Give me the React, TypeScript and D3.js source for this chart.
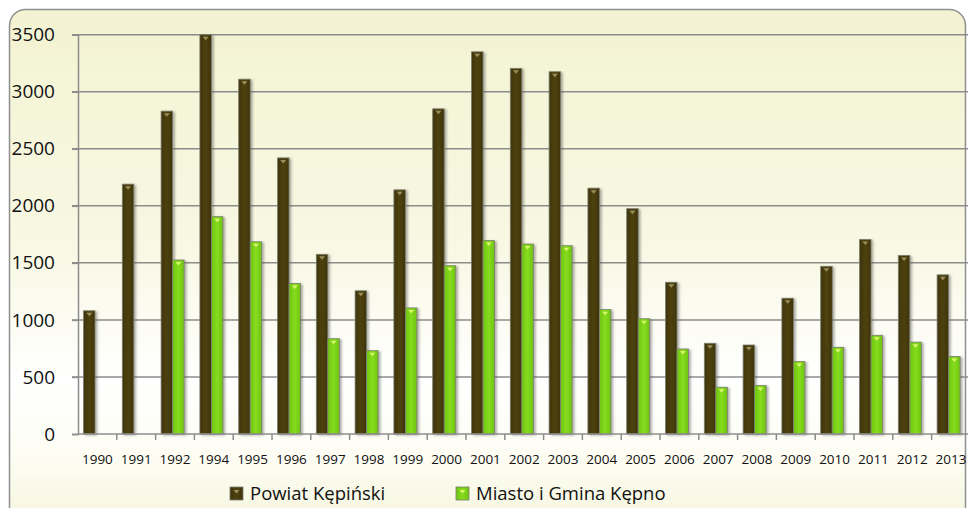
import React, { useEffect, useRef } from "react";
import * as d3 from "d3";

// years on the category axis (1993 is missing in the source)
const years = [
  "1990", "1991", "1992", "1994", "1995", "1996", "1997", "1998", "1999", "2000", "2001", "2002",
  "2003", "2004", "2005", "2006", "2007", "2008", "2009", "2010", "2011", "2012", "2013",
];
const powiat = [
  1080, 2190, 2830, 3500, 3110, 2420, 1575, 1255, 2140, 2850, 3350, 3205,
  3175, 2155, 1975, 1330, 795, 780, 1190, 1470, 1705, 1565, 1395,
];
const gmina = [
  0, 0, 1525, 1905, 1685, 1320, 835, 730, 1105, 1475, 1695, 1665,
  1650, 1090, 1010, 745, 410, 425, 635, 760, 865, 805, 680,
];
const seriesNames = ["Powiat Kępiński", "Miasto i Gmina Kępno"];
const yTicks = [0, 500, 1000, 1500, 2000, 2500, 3000, 3500];

const App = () => {
  const ref = useRef<SVGSVGElement>(null);

  useEffect(() => {
    const width = 968;
    const height = 508;
    const left = 78;
    const top = 34.7;
    const bottom = 434;
    const right = 78 + 23 * 38.8;

    const svg = d3.select(ref.current);
    svg.selectAll("*").remove();

    const defs = svg.append("defs");
    const bg = defs
      .append("linearGradient")
      .attr("id", "bg")
      .attr("x1", 0).attr("y1", 0).attr("x2", 0).attr("y2", 1);
    [
      [0, "#f3f3d2"],
      [0.45, "#f8f8e4"],
      [0.7, "#ffffff"],
      [0.84, "#fdfdf4"],
      [1, "#f4f4da"],
    ].forEach(([o, c]) => bg.append("stop").attr("offset", o as number).attr("stop-color", c as string));

    const shadow = defs.append("filter").attr("id", "shadow")
      .attr("x", "-50%").attr("y", "-10%").attr("width", "200%").attr("height", "120%");
    shadow.append("feDropShadow")
      .attr("dx", 2).attr("dy", 1).attr("stdDeviation", 1.2)
      .attr("flood-color", "#555").attr("flood-opacity", 0.45);

    // bar gradients (slightly lighter middle, darker sides)
    const barGrad = (id: string, edge: string, mid: string) => {
      const g = defs.append("linearGradient").attr("id", id)
        .attr("x1", 0).attr("y1", 0).attr("x2", 1).attr("y2", 0);
      g.append("stop").attr("offset", 0).attr("stop-color", edge);
      g.append("stop").attr("offset", 0.5).attr("stop-color", mid);
      g.append("stop").attr("offset", 1).attr("stop-color", edge);
    };
    barGrad("g0", "#3e340a", "#4d420f");
    barGrad("g1", "#6fc414", "#86dc1c");
    const fills = ["url(#g0)", "url(#g1)"];
    const tipColors = ["#9a8f5a", "#d8f56a"];

    // chart frame
    svg.append("rect")
      .attr("x", 9.5).attr("y", 9.5)
      .attr("width", 956).attr("height", 530)
      .attr("rx", 16)
      .attr("fill", "url(#bg)")
      .attr("stroke", "#8f8f8f")
      .attr("stroke-width", 1.5);

    const y = d3.scaleLinear().domain([0, 3500]).range([bottom, top]);
    const x0 = d3.scaleBand<string>().domain(years).range([left, right]).padding(0);
    const x1 = d3.scaleBand<number>().domain([0, 1]).range([5.5, 28.5]).padding(0);

    // gridlines
    svg.append("g")
      .selectAll("line")
      .data(yTicks.filter((t) => t > 0))
      .join("line")
      .attr("x1", left - 6).attr("x2", width + 10)
      .attr("y1", (d) => y(d)).attr("y2", (d) => y(d))
      .attr("stroke", "#8c8c8c").attr("stroke-width", 1.5);

    // y axis
    const yAxis = svg.append("g").attr("transform", `translate(${left},0)`)
      .call(d3.axisLeft(y).tickValues(yTicks).tickSize(6).tickPadding(17).tickFormat(d3.format("d")));
    yAxis.select(".domain").attr("stroke", "#8c8c8c").attr("stroke-width", 1.5);
    yAxis.selectAll(".tick line").attr("stroke", "#8c8c8c").attr("stroke-width", 1.5);
    yAxis.selectAll(".tick text")
      .attr("font-family", "'Open Sans', sans-serif")
      .attr("font-size", 19)
      .attr("fill", "#111");

    // bars
    const groups = svg.append("g")
      .selectAll("g")
      .data(years)
      .join("g")
      .attr("transform", (d) => `translate(${x0(d)},0)`);

    [powiat, gmina].forEach((vals, s) => {
      const bars = groups.filter((_, i) => vals[i] > 0);
      bars.append("rect")
        .attr("x", x1(s)!)
        .attr("width", x1.bandwidth())
        .attr("y", (_, i, nodes) => y(vals[years.indexOf(d3.select(nodes[i]).datum() as string)]))
        .attr("height", (_, i, nodes) => bottom - y(vals[years.indexOf(d3.select(nodes[i]).datum() as string)]))
        .attr("fill", fills[s])
        .attr("stroke", "#7d7d6e")
        .attr("stroke-width", 0.8)
        .attr("filter", "url(#shadow)");
      bars.append("path")
        .attr("d", (d) => {
          const cx = x1(s)! + x1.bandwidth() / 2;
          const ty = y(vals[years.indexOf(d)]) + 2;
          return `M${cx - 3},${ty}L${cx + 3},${ty}L${cx},${ty + 3.5}Z`;
        })
        .attr("fill", tipColors[s]);
    });

    // x axis
    svg.append("line")
      .attr("x1", left).attr("x2", width + 10)
      .attr("y1", bottom).attr("y2", bottom)
      .attr("stroke", "#8c8c8c").attr("stroke-width", 1.5);
    svg.append("g")
      .selectAll("line")
      .data(years)
      .join("line")
      .attr("x1", (d) => x0(d)! + x0.bandwidth()).attr("x2", (d) => x0(d)! + x0.bandwidth())
      .attr("y1", bottom).attr("y2", bottom + 6)
      .attr("stroke", "#8c8c8c").attr("stroke-width", 1.5);
    svg.append("g")
      .selectAll("text")
      .data(years)
      .join("text")
      .attr("x", (d) => x0(d)! + x0.bandwidth() / 2)
      .attr("y", 464)
      .attr("text-anchor", "middle")
      .attr("font-family", "'Open Sans', sans-serif")
      .attr("font-size", 13.5)
      .attr("fill", "#111")
      .text((d) => d);

    // legend
    const legendX = [230, 456];
    const legend = svg.append("g")
      .selectAll("g")
      .data(seriesNames)
      .join("g")
      .attr("transform", (_, i) => `translate(${legendX[i]},487)`);
    legend.append("rect")
      .attr("width", 13).attr("height", 13)
      .attr("fill", (_, i) => fills[i])
      .attr("stroke", "#7d7d6e").attr("stroke-width", 0.8);
    legend.append("path")
      .attr("d", "M3.5,3L9.5,3L6.5,6.5Z")
      .attr("fill", (_, i) => tipColors[i]);
    legend.append("text")
      .attr("x", 20).attr("y", 13)
      .attr("font-family", "'Open Sans', sans-serif")
      .attr("font-size", 18.5)
      .attr("fill", "#111")
      .text((d) => d);
  }, []);

  return (
    <svg
      ref={ref}
      width={968}
      height={508}
      style={{ position: "absolute", left: 0, top: 0, display: "block" }}
    />
  );
};

export default App;
